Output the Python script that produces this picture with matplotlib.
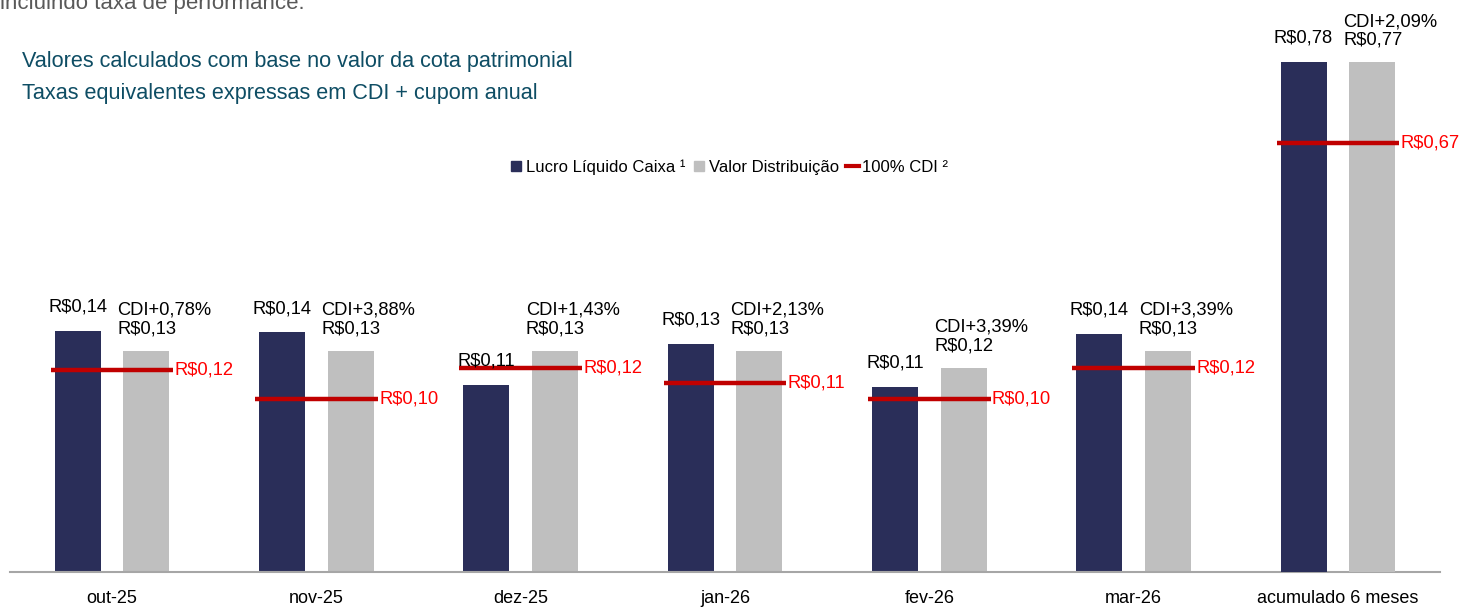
import matplotlib.pyplot as plt
from matplotlib.lines import Line2D

# === DATA ===
months = ["out-25", "nov-25", "dez-25", "jan-26", "fev-26", "mar-26"]
total_label = "acumulado 6 meses"
lucro = [0.142, 0.141, 0.110, 0.134, 0.109, 0.140]      # Lucro Liquido Caixa
distrib = [0.130, 0.130, 0.130, 0.130, 0.120, 0.130]    # Valor Distribuicao
cdi_100 = [0.119, 0.102, 0.120, 0.111, 0.102, 0.120]    # 100% CDI
spread = ["CDI+0,78%", "CDI+3,88%", "CDI+1,43%", "CDI+2,13%", "CDI+3,39%", "CDI+3,39%"]
lucro_total = 0.7751
distrib_total = 0.7749
cdi_total = 0.6652
spread_total = "CDI+2,09%"

# === STYLE ===
NAVY = "#2A2E59"
GRAY = "#BFBFBF"
RED_LINE = "#C00000"
RED_TXT = "#FF0000"
TEAL = "#0E4D64"
plt.rcParams["font.family"] = ["Liberation Sans", "DejaVu Sans"]

W, H = 1459, 607
fig = plt.figure(figsize=(W / 100, H / 100), dpi=100)
ax = fig.add_axes([10 / W, 35 / H, 1430 / W, 532 / H])
ax2 = ax.twinx()
# monthly bars on the left scale, 6-month total on its own (secondary) scale
ax.set_ylim(0, 532 / 1700)
ax2.set_ylim(0.0825, 0.0825 + 532 / 736)
ax.set_xlim(-0.5, 6.5)

off, bw, half = 0.168, 0.225, 0.30
fs = 13.2


def fmt(v):
    return f"R${v:.2f}".replace(".", ",")


def draw_group(a, x, v1, v2, v3, sp):
    a.bar(x - off, v1, bw, color=NAVY, zorder=2)
    a.bar(x + off, v2, bw, color=GRAY, zorder=2)
    a.plot([x - half, x + half], [v3, v3], color=RED_LINE, lw=3.2, zorder=3,
           solid_capstyle="butt")
    a.annotate(fmt(v1), (x - off, v1), xytext=(0, 11), textcoords="offset points",
               ha="center", va="bottom", fontsize=fs, zorder=4)
    a.annotate(sp + "\n" + fmt(v2), (x + off, v2), xytext=(-21, 10),
               textcoords="offset points", ha="left", va="bottom", fontsize=fs,
               linespacing=1.1, zorder=4)
    a.annotate(fmt(v3), (x + half, v3), xytext=(1, 0), textcoords="offset points",
               ha="left", va="center", fontsize=fs, color=RED_TXT, zorder=4)


for i in range(len(months)):
    draw_group(ax, i, lucro[i], distrib[i], cdi_100[i], spread[i])
draw_group(ax2, len(months), lucro_total, distrib_total, cdi_total, spread_total)

for a in (ax, ax2):
    for s in ("top", "left", "right"):
        a.spines[s].set_visible(False)
    a.set_yticks([])
ax2.spines["bottom"].set_visible(False)
ax.spines["bottom"].set_color("#A6A6A6")
ax.spines["bottom"].set_linewidth(1.5)

ax.set_xticks(range(len(months) + 1))
ax.set_xticklabels(months + [total_label], fontsize=13)
ax.tick_params(axis="x", length=0, pad=13)

# === LEGEND ===
handles = [
    Line2D([], [], ls="", marker="s", markersize=7.5, color=NAVY),
    Line2D([], [], ls="", marker="s", markersize=7.5, color=GRAY),
    Line2D([], [], color=RED_LINE, lw=3),
]
fig.legend(handles, ["Lucro Líquido Caixa ¹", "Valor Distribuição", "100% CDI ²"],
           loc="center", bbox_to_anchor=(729 / W, 1 - 167 / H), ncol=3, frameon=False,
           handlelength=0.75, handletextpad=0.2, columnspacing=0.45, fontsize=12)

# === TEXTS ===
fig.text(0, 1 - 3 / H, "incluindo taxa de performance.", ha="left", va="center",
         fontsize=16, color="#595959")
fig.text(22 / W, 1 - 62 / H, "Valores calculados com base no valor da cota patrimonial",
         ha="left", va="center", fontsize=15.6, color=TEAL)
fig.text(22 / W, 1 - 94 / H, "Taxas equivalentes expressas em CDI + cupom anual",
         ha="left", va="center", fontsize=15.6, color=TEAL)

fig.savefig("out.png", dpi=100)
